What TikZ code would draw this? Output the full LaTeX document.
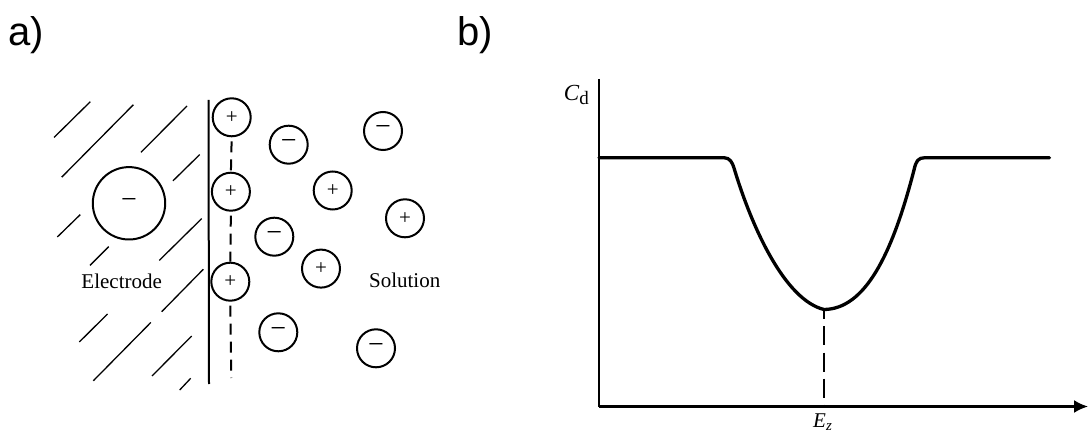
\documentclass[tikz,border=0pt]{standalone}
\usepackage{fontspec}
\setmainfont{Liberation Serif}
\newfontfamily\labelsans{Liberation Sans}
\usetikzlibrary{arrows.meta}
\begin{document}
\begin{tikzpicture}[x=1pt,y=-1pt,
  ion/.style={circle,draw,line width=2pt,fill=white,inner sep=0pt,minimum size=38pt,font=\fontsize{21}{21}\selectfont},
  anion/.style={ion,font=\fontsize{28}{28}\selectfont},
  bigion/.style={anion,minimum size=72.4pt},
  hatch/.style={line width=1.3pt},
  wall/.style={line width=2pt},
  axis/.style={line width=2.2pt},
  curve/.style={line width=3.3pt,line cap=round,line join=round},
  dashA/.style={line width=2pt,dash pattern=on 11pt off 7pt,dash phase=14pt},
  dashB/.style={line width=2.2pt,dash pattern=on 19pt off 7pt,dash phase=9pt},
  panel/.style={font=\labelsans\fontsize{40}{40}\selectfont,anchor=base west,inner sep=0pt},
  lbl/.style={font=\fontsize{21}{21}\selectfont,anchor=base,inner sep=0pt}]
\useasboundingbox (0,0) rectangle (1089,435);

% ---------- panel a ----------
\node[panel] (la) at (8,46) {a)};
\node[panel] (lb) at (457,46) {b)};

% hatching of the electrode
\draw[hatch] (54,137.5) -- (90.3,101.7);
\draw[hatch] (61.7,177.2) -- (133.3,104.8);
\draw[hatch] (141,152.3) -- (187,106);
\draw[hatch] (173,180.8) -- (199.7,154.6);
\draw[hatch] (57.3,237) -- (80.3,214.6);
\draw[hatch] (90,265.4) -- (108.7,246.7);
\draw[hatch] (159.3,260.4) -- (201.7,218.6);
\draw[hatch] (161.7,311.7) -- (203.3,269.3);
\draw[hatch] (79.3,342) -- (107.5,314);
\draw[hatch] (93.3,380.8) -- (150.8,322.5);
\draw[hatch] (152,376) -- (191.7,336);
\draw[hatch] (179.7,390) -- (190.7,378.3);

% electrode surface
\coordinate (wtop) at (208.5,100);
\coordinate (wbot) at (209,384);
\draw[wall] (wtop) -- (wbot);

% adsorbed cations
\node[ion] (p1) at (231.7,117.3) {+};
\node[ion] (p2) at (230.9,191.7) {+};
\node[ion] (p3) at (230.3,281.7) {+};
\coordinate (dend) at (231.3,378);
\draw[dashA] (p1.south) -- (p2.north);
\draw[dashA] (p2.south) -- (p3.north);
\draw[dashA] (p3.south) -- (dend);

% ions in solution
\node[anion] (n1) at (288.7,144.7) {−};
\node[anion] (n2) at (383,131) {−};
\node[ion] (p4) at (332.7,190.5) {+};
\node[ion] (p5) at (405,218.3) {+};
\node[anion] (n3) at (274.3,236.7) {−};
\node[ion] (p6) at (321,268.6) {+};
\node[anion] (n4) at (278.3,332.3) {−};
\node[anion] (n5) at (376,348.3) {−};
\node[bigion] (big) at (129,203.3) {−};

\node[lbl] (electrode) at (121.7,288.3) {Electrode};
\node[lbl] (solution) at (404.7,287.3) {Solution};

% ---------- panel b ----------
\coordinate (O) at (599,406.5);
\coordinate (ytop) at (599,79);
\coordinate (xend) at (1088,406.5);
\draw[axis] (ytop) -- (O);
\draw[axis,-{Latex[length=14pt,width=13pt]}] (O) -- (xend);

\coordinate (emin) at (824,309.5);
\draw[curve] (599,157.7) -- (724,157.7)
  .. controls (730,157.7) and (732.5,163) .. (734,168)
  .. controls (752,228) and (785,300) .. (emin)
  .. controls (865,309) and (892,255) .. (914,170)
  .. controls (916,161) and (918,157.7) .. (925,157.7)
  -- (1049.5,157.7);
\draw[dashB] (emin) -- (emin |- O);

\node[anchor=base east,inner sep=0pt] (cd) at (589,100.7)
  {\fontsize{23}{23}\selectfont\textit{C}\raisebox{-4.3pt}{\fontsize{19}{19}\selectfont d}};
\node[anchor=base west,inner sep=0pt] (ez) at (813,427.5)
  {\fontsize{21}{21}\selectfont\textit{E}\raisebox{-3pt}{\fontsize{15}{15}\selectfont\textit{z}}};
\end{tikzpicture}
\end{document}
